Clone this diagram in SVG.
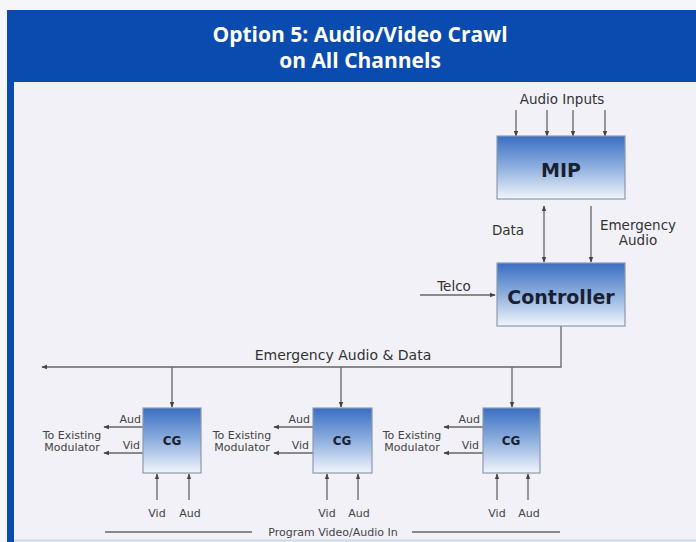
<svg xmlns="http://www.w3.org/2000/svg" width="696" height="542" viewBox="0 0 696 542">
<defs>
<linearGradient id="boxg" x1="0" y1="0" x2="0" y2="1">
<stop offset="0" stop-color="#3a6ec2"/>
<stop offset="0.5" stop-color="#8fb0de"/>
<stop offset="1" stop-color="#f2f5fb"/>
</linearGradient>
<marker id="ah" viewBox="0 0 8 8" refX="7" refY="4" markerWidth="6" markerHeight="6" orient="auto-start-reverse" markerUnits="userSpaceOnUse">
<path d="M0,1 L8,4 L0,7 z" fill="#444"/>
</marker>
</defs>
<style>
.box{fill:url(#boxg);stroke:#8c9ab0;stroke-width:1.2}
.ln{stroke:#666;stroke-width:1.3;fill:none}
.arr{stroke:#666;stroke-width:1.3;fill:none;marker-end:url(#ah)}
.lbl{font-family:"DejaVu Sans",Verdana,sans-serif;fill:#333;font-size:13.5px}
.sm{font-family:"DejaVu Sans",Verdana,sans-serif;fill:#444;font-size:11px}
.big{font-family:"DejaVu Sans",Verdana,sans-serif;font-weight:bold;fill:#1a1f33}
.title{font-family:"Open Sans","Liberation Sans",sans-serif;font-weight:bold;fill:#ffffff;font-size:21px}
</style>
<rect width="696" height="542" fill="#f6f6fa"/>
<rect x="8" y="82" width="688" height="460" fill="#f1f1f7"/>
<rect x="7" y="10" width="689" height="72" fill="#0a4bb0"/>
<rect x="7" y="10" width="7" height="532" fill="#0a4bb0"/>
<line x1="14" y1="540.5" x2="696" y2="540.5" stroke="#c8dde8" stroke-width="2"/>
<text class="title" x="360" y="42" text-anchor="middle">Option 5: Audio/Video Crawl</text>
<text class="title" x="360" y="68" text-anchor="middle">on All Channels</text>

<g id="connectors">
<line class="arr" x1="516" y1="110" x2="516" y2="136"/>
<line class="arr" x1="547" y1="110" x2="547" y2="136"/>
<line class="arr" x1="573" y1="110" x2="573" y2="136"/>
<line class="arr" x1="605" y1="110" x2="605" y2="136"/>
<line class="arr" x1="544" y1="206" x2="544" y2="262" style="marker-start:url(#ah)"/>
<line class="arr" x1="591" y1="206" x2="591" y2="262"/>
<line class="arr" x1="420" y1="295" x2="495" y2="295"/>
<polyline class="ln" points="561,326 561,367 42,367" style="marker-end:url(#ah)"/>
<line class="arr" x1="172" y1="367" x2="172" y2="407"/>
<line class="arr" x1="341" y1="367" x2="341" y2="407"/>
<line class="arr" x1="512" y1="367" x2="512" y2="407"/>
<line class="arr" x1="143" y1="427" x2="104" y2="427"/>
<line class="arr" x1="143" y1="453" x2="104" y2="453"/>
<line class="arr" x1="313" y1="427" x2="274" y2="427"/>
<line class="arr" x1="313" y1="453" x2="274" y2="453"/>
<line class="arr" x1="483" y1="427" x2="444" y2="427"/>
<line class="arr" x1="483" y1="453" x2="444" y2="453"/>
<line class="arr" x1="157" y1="500" x2="157" y2="474"/>
<line class="arr" x1="189" y1="500" x2="189" y2="474"/>
<line class="arr" x1="327" y1="500" x2="327" y2="474"/>
<line class="arr" x1="358" y1="500" x2="358" y2="474"/>
<line class="arr" x1="497" y1="500" x2="497" y2="474"/>
<line class="arr" x1="528" y1="500" x2="528" y2="474"/>
<line class="ln" x1="105" y1="532" x2="252" y2="532"/>
<line class="ln" x1="412" y1="532" x2="560" y2="532"/>
</g>

<g id="labels">
<text class="lbl" x="562" y="104" text-anchor="middle">Audio Inputs</text>
<text class="lbl" x="508" y="235" text-anchor="middle">Data</text>
<text class="lbl" x="638" y="230" text-anchor="middle">Emergency</text>
<text class="lbl" x="638" y="245" text-anchor="middle">Audio</text>
<text class="lbl" x="454" y="291" text-anchor="middle">Telco</text>
<text class="lbl" x="343" y="360" text-anchor="middle" style="font-size:14px">Emergency Audio &amp; Data</text>
<text class="sm" x="333" y="536" text-anchor="middle">Program Video/Audio In</text>
</g>

<g id="mip">
<rect class="box" x="497" y="136" width="128" height="63"/>
<text class="big" x="561" y="177" text-anchor="middle" font-size="19">MIP</text>
</g>
<g id="controller">
<rect class="box" x="497" y="263" width="128" height="63"/>
<text class="big" x="561" y="304" text-anchor="middle" font-size="19">Controller</text>
</g>

<g id="cg1">
<rect class="box" x="143" y="408" width="58" height="65"/>
<text class="big" x="172" y="445" text-anchor="middle" font-size="12">CG</text>
<text class="sm" x="141" y="423" text-anchor="end">Aud</text>
<text class="sm" x="140" y="449" text-anchor="end">Vid</text>
<text class="sm" x="72" y="439" text-anchor="middle">To Existing</text>
<text class="sm" x="72" y="451" text-anchor="middle">Modulator</text>
<text class="sm" x="157" y="517" text-anchor="middle">Vid</text>
<text class="sm" x="190" y="517" text-anchor="middle">Aud</text>
</g>
<g id="cg2">
<rect class="box" x="313" y="408" width="59" height="65"/>
<text class="big" x="342" y="445" text-anchor="middle" font-size="12">CG</text>
<text class="sm" x="310" y="423" text-anchor="end">Aud</text>
<text class="sm" x="309" y="449" text-anchor="end">Vid</text>
<text class="sm" x="242" y="439" text-anchor="middle">To Existing</text>
<text class="sm" x="242" y="451" text-anchor="middle">Modulator</text>
<text class="sm" x="327" y="517" text-anchor="middle">Vid</text>
<text class="sm" x="359" y="517" text-anchor="middle">Aud</text>
</g>
<g id="cg3">
<rect class="box" x="483" y="408" width="57" height="65"/>
<text class="big" x="511" y="445" text-anchor="middle" font-size="12">CG</text>
<text class="sm" x="480" y="423" text-anchor="end">Aud</text>
<text class="sm" x="479" y="449" text-anchor="end">Vid</text>
<text class="sm" x="412" y="439" text-anchor="middle">To Existing</text>
<text class="sm" x="412" y="451" text-anchor="middle">Modulator</text>
<text class="sm" x="497" y="517" text-anchor="middle">Vid</text>
<text class="sm" x="529" y="517" text-anchor="middle">Aud</text>
</g>
</svg>
